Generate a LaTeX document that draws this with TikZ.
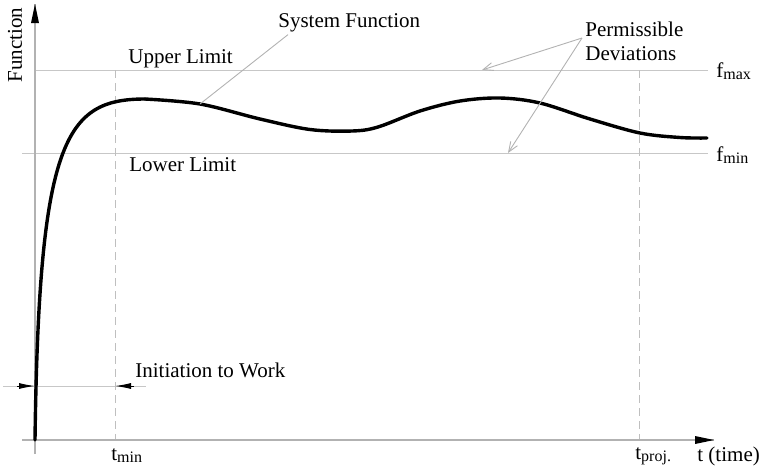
\documentclass[tikz,border=0pt]{standalone}
\usepackage{fontspec}
\setmainfont{Liberation Serif}
\usetikzlibrary{arrows.meta}
\begin{document}
\begin{tikzpicture}[x=0.5pt,y=-0.5pt,
  guide/.style={draw=black!22, line width=0.5pt},
  axisline/.style={draw=black!30, line width=0.55pt},
  dashguide/.style={draw=black!25, line width=0.5pt, dash pattern=on 4pt off 2.5pt},
  leader/.style={draw=black!30, line width=0.45pt},
  pointer/.style={leader, -{Straight Barb[length=5pt,width=4pt]}},
  dimtip/.style={-{Latex[length=8pt,width=3pt]}, draw=black, line width=0.5pt},
  lbl/.style={font=\fontsize{10.5}{12}\selectfont, inner sep=0pt},
  curve/.style={line width=1.7pt, line join=round, line cap=round}]
\useasboundingbox (0,0) rectangle (761,468);

% reference points
\coordinate (O) at (35,440);
\coordinate (ytop) at (35,4);
\coordinate (ybot) at (35,454);
\coordinate (xleft) at (22,440);
\coordinate (xright) at (714,440);
\coordinate (umL) at (35,70);
\coordinate (umR) at (708,70);
\coordinate (lmL) at (22,153);
\coordinate (lmR) at (708,153);
\coordinate (tminT) at (115,70);
\coordinate (tminB) at (115,440);
\coordinate (tprojT) at (639,70);
\coordinate (tprojB) at (639,440);
\coordinate (dimL) at (3,386);
\coordinate (dimR) at (146,386);
\coordinate (dimA) at (35,386);
\coordinate (dimB) at (115,386);
\coordinate (sfpt) at (200,104);
\coordinate (devU) at (482,70);
\coordinate (devL) at (508,153);

% limits and time marks
\draw[guide] (umL) -- (umR);
\draw[guide] (lmL) -- (lmR);
\draw[dashguide] (tminT) -- (tminB);
\draw[dashguide] (tprojT) -- (tprojB);

% axes
\draw[axisline] (ybot) -- (ytop);
\draw[axisline] (xleft) -- (xright);
\fill (ytop) -- ++(-4,19) -- ++(8,0) -- cycle;
\fill (xright) -- ++(-19,-4) -- ++(0,8) -- cycle;

% start-up interval
\draw[guide] (dimL) -- (dimR);
\draw[dimtip] (17,386) -- (dimA);
\draw[dimtip] (134,386) -- (dimB);

% system function
\draw[curve] (O) .. controls (39,140) and (65,99) .. (145,99);
\draw[curve] plot[smooth, tension=0.55] coordinates {(145,99) (200,104) (260,119) (310,129.5) (352,131) (378,127) (420,111) (460,101) (500,98) (540,103) (590,119) (640,133) (680,137.5) (707,138)};

% labels
\node[lbl, rotate=90] (fn) at (15,45) {Function};
\node[lbl, anchor=west] (sf) at (278,23) {System Function};
\draw[leader] (sf.south west) ++(10,2) coordinate (sfa) -- (sfpt);
\node[lbl, anchor=west] (ul) at (128,59) {Upper Limit};
\node[lbl, anchor=west] (ll) at (129,165) {Lower Limit};
\node[lbl, anchor=west, align=left] (pd) at (585,41) {Permissible\\Deviations};
\coordinate (pdA) at (582,38);
\draw[pointer] (pdA) -- (devU);
\draw[pointer] (pdA) -- (devL);
\node[lbl, anchor=west] (fmax) at (716,71) {f\raisebox{-0.2ex}{\fontsize{8}{9}\selectfont max}};
\node[lbl, anchor=west] (fmin) at (716,155) {f\raisebox{-0.2ex}{\fontsize{8}{9}\selectfont min}};
\node[lbl, anchor=west] (iw) at (135,370) {Initiation to Work};
\node[lbl, anchor=west] (tmin) at (111,456) {t\raisebox{-0.2ex}{\fontsize{8}{9}\selectfont min}};
\node[lbl, anchor=west] (tproj) at (635,456) {t\raisebox{-0.2ex}{\fontsize{8}{9}\selectfont proj.}};
\node[lbl, anchor=west] (tt) at (697,456) {t (time)};
\end{tikzpicture}
\end{document}
